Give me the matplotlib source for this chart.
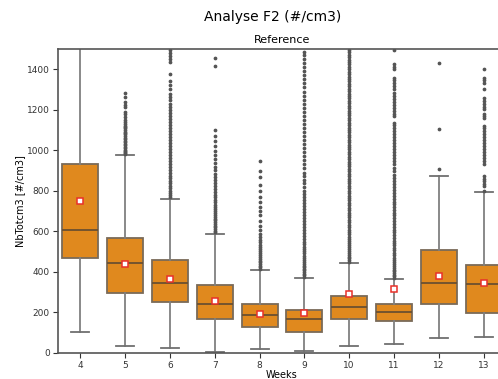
import numpy as np
import matplotlib
matplotlib.use("Agg")
import matplotlib.pyplot as plt

# weekly stats (#/cm3)
weeks = ["4", "5", "6", "7", "8", "9", "10", "11", "12", "13"]
q1 = [467, 297, 248, 164, 129, 104, 167, 159, 243, 195]
med = [608, 444, 345, 241, 188, 165, 225, 202, 344, 339]
q3 = [934, 568, 456, 332, 240, 210, 281, 241, 507, 434]
whislo = [104, 35, 25, 5, 20, 8, 35, 41, 71, 78]
whishi = [1600, 976, 761, 586, 408, 368, 444, 362, 874, 792]
means = [748, 436, 365, 256, 192, 195, 291, 314, 378, 345]

fl4 = []
fl5 = [1285, 1262, 1240, 1225, 1212, 1190, 1178, 1165, 1150, 1140, 1130, 1122,
       1115, 1108, 1100, 1092, 1085, 1078, 1070, 1062, 1055, 1048, 1040, 1032,
       1025, 1018, 1010, 1003, 996, 990, 984, 980]
fl6 = [770, 780, 790, 800, 812, 825, 838, 850, 862, 875, 888, 900, 915, 930,
       945, 960, 975, 990, 1005, 1020, 1035, 1050, 1065, 1080, 1095, 1110, 1125,
       1140, 1155, 1170, 1185, 1200, 1215, 1230, 1250, 1265, 1280, 1300, 1320,
       1340, 1375, 1435, 1450, 1465, 1480, 1495, 1510]
fl7 = [595, 603, 611, 620, 628, 636, 645, 653, 662, 670, 680, 690, 700, 710,
       720, 730, 742, 755, 768, 780, 795, 810, 825, 840, 855, 870, 885, 900,
       918, 935, 955, 975, 995, 1020, 1045, 1070, 1098, 1417, 1458]
fl8 = [415, 422, 430, 438, 446, 455, 464, 473, 482, 492, 502, 512, 522, 533,
       545, 558, 572, 588, 606, 625, 650, 682, 700, 720, 745, 770, 800, 830,
       868, 897, 946]
fl9 = [375, 382, 390, 398, 406, 414, 422, 430, 440, 450, 460, 470, 480, 490,
       500, 512, 524, 536, 548, 560, 575, 590, 605, 620, 635, 650, 665, 680,
       695, 710, 725, 740, 755, 770, 785, 800, 818, 836, 854, 872, 890, 910,
       930, 950, 970, 990, 1010, 1030, 1050, 1070, 1090, 1110, 1130, 1150, 1170,
       1190, 1210, 1230, 1250, 1270, 1290, 1310, 1330, 1350, 1370, 1390, 1410,
       1430, 1450, 1470, 1485]
fl10 = [450, 458, 466, 474, 482, 490, 500, 510, 520, 530, 540, 550, 560, 572,
        584, 596, 608, 620, 632, 644, 656, 668, 680, 692, 704, 716, 728, 740,
        752, 764, 776, 788, 800, 812, 824, 836, 848, 860, 872, 884, 896, 908,
        920, 932, 944, 956, 968, 980, 992, 1004, 1016, 1028, 1040, 1052, 1064,
        1076, 1088, 1100, 1112, 1124, 1136, 1148, 1160, 1172, 1184, 1196, 1208,
        1220, 1232, 1244, 1256, 1268, 1280, 1292, 1304, 1316, 1328, 1340, 1352,
        1364, 1376, 1388, 1400, 1412, 1424, 1436, 1448, 1460, 1472, 1484, 1496,
        1510]
fl11 = [370, 378, 386, 394, 402, 410, 420, 430, 440, 450, 460, 470, 482, 494,
        506, 518, 530, 542, 554, 566, 580, 594, 608, 622, 636, 650, 664, 678,
        692, 706, 720, 732, 745, 760, 775, 790, 805, 820, 835, 850, 865, 880,
        895, 913, 930, 945, 960, 975, 990, 1005, 1020, 1035, 1050, 1065, 1080,
        1095, 1110, 1125, 1136, 1169, 1180, 1195, 1210, 1225, 1240, 1255, 1270,
        1285, 1300, 1315, 1330, 1345, 1359, 1400, 1412, 1425, 1494]
fl12 = [905, 1106, 1430]
fl13 = [800, 822, 835, 848, 860, 872, 930, 945, 960, 975, 990, 1005, 1020,
        1035, 1050, 1065, 1080, 1095, 1110, 1119, 1161, 1170, 1177, 1202, 1215,
        1230, 1245, 1260, 1301, 1334, 1345, 1359, 1400]
fliers = [fl4, fl5, fl6, fl7, fl8, fl9, fl10, fl11, fl12, fl13]

stats = []
for i in range(len(weeks)):
    stats.append(dict(label=weeks[i], q1=q1[i], med=med[i], q3=q3[i],
                      whislo=whislo[i], whishi=whishi[i], mean=means[i],
                      fliers=fliers[i]))

fig = plt.figure(figsize=(4.98, 3.79), dpi=100)
# axes run past the right edge, like in the cropped reference
ax = fig.add_axes([58/498, 26.3/379, 448/498, 303.7/379])

edge = "#7a6a58"
ax.bxp(stats, positions=range(len(weeks)), widths=0.8, patch_artist=True,
       showmeans=True,
       boxprops=dict(facecolor="#e0891e", edgecolor=edge, linewidth=1.3),
       whiskerprops=dict(color="#808080", linewidth=1.3),
       capprops=dict(color="#707070", linewidth=1.3),
       medianprops=dict(color="#6b5030", linewidth=1.3),
       meanprops=dict(marker="s", markerfacecolor="white",
                      markeredgecolor="#e8302a", markersize=4.5,
                      markeredgewidth=1.1),
       flierprops=dict(marker="o", markerfacecolor="#555555",
                       markeredgecolor="#555555", markersize=1.7))

ax.set_xlim(-0.5, len(weeks) - 0.5)
ax.set_ylim(0, 1500)
ax.set_yticks([0, 200, 400, 600, 800, 1000, 1200, 1400])
ax.set_xticks(range(len(weeks)))
ax.set_xticklabels(weeks)
ax.tick_params(labelsize=6.5, length=3.5, width=0.8, colors="#333333", pad=2.5)
for s in ax.spines.values():
    s.set_color("#555555")
    s.set_linewidth(1.2)

ax.set_xlabel("Weeks", fontsize=7, labelpad=0)
ax.set_ylabel("NbTotcm3 [#/cm3]", fontsize=7, labelpad=1)
ax.set_title("Reference", fontsize=8, pad=4)
fig.text(273/498, 1 - 17/379, "Analyse F2 (#/cm3)", fontsize=10,
         ha="center", va="center")

fig.savefig("out.png", dpi=100)
